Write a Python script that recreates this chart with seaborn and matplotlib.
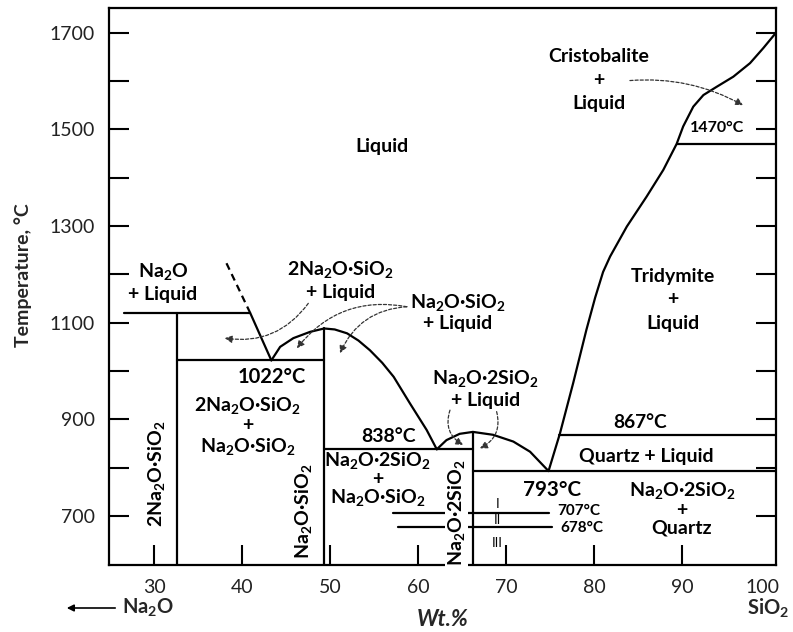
import matplotlib
matplotlib.use("Agg")
import matplotlib.pyplot as plt
import matplotlib.transforms as mtransforms
import seaborn as sns
import pandas as pd

# ---------------- phase boundaries (wt.% SiO2, temperature °C) ----------------
# Na2O + liquid / liquid boundary (dashed metastable part and solid part)
liq_na2o_dash_x = [38.2, 40.9]
liq_na2o_dash_t = [1223, 1120]
liq_na2o_x = [40.9, 43.3]
liq_na2o_t = [1120, 1022]

# Na2O·SiO2 liquidus dome
dome_ns_x = [43.3, 44.3, 45.8, 47.7, 49.3, 50.5, 51.9, 53.2, 54.5, 55.9, 57.2,
             59.05, 60.95, 62.1]
dome_ns_t = [1022, 1050, 1068, 1081, 1088, 1086, 1078, 1063, 1043, 1017, 988,
             933, 878, 838]

# Na2O·2SiO2 liquidus dome
dome_ns2_x = [62.1, 63.2, 64.7, 66.2, 68.5, 70.8, 72.7, 74.8]
dome_ns2_t = [838, 857, 870, 874, 868, 854, 833, 793]

# silica liquidus (quartz / tridymite / cristobalite)
liq_sio2_x = [74.8, 76.1, 77.6, 79.1, 80.1, 81.0, 81.8, 83.7, 85.95, 87.84, 89.36,
              90.1, 91.25, 92.4, 93.9, 95.8, 97.7, 99.2, 100.65]
liq_sio2_t = [793, 871, 975, 1085, 1152, 1205, 1237, 1299, 1361, 1416, 1470,
              1506, 1547, 1571, 1588, 1609, 1637, 1668, 1700]

# isotherms: start wt.%, end wt.%, temperature
iso_x0 = [26.6, 32.55, 49.3, 66.2, 76.0, 89.36, 57.1, 57.7]
iso_x1 = [40.9, 49.3, 66.2, 100.65, 100.65, 100.65, 74.8, 75.2]
iso_t = [1120, 1022, 838, 793, 867, 1470, 707, 678]

# compound verticals: composition, top temperature
comp_x = [32.55, 49.3, 66.2]
comp_top = [1120, 1088, 874]

x_ticks = [30, 40, 50, 60, 70, 80, 90, 100]
y_ticks = [700, 900, 1100, 1300, 1500, 1700]
y_minor = [800, 1000, 1200, 1400, 1600]

X_LIM = (24.85, 100.65)
Y_LIM = (598.6, 1750.5)

# ---------------- assemble segments ----------------
rows = []
def add(seg, xs, ts):
    for x, t in zip(xs, ts):
        rows.append({"wt": x, "temp": t, "seg": seg})

add("liq_na2o", liq_na2o_x, liq_na2o_t)
add("dome_ns", dome_ns_x, dome_ns_t)
add("dome_ns2", dome_ns2_x, dome_ns2_t)
add("liq_sio2", liq_sio2_x, liq_sio2_t)
for i, (a, b, t) in enumerate(zip(iso_x0, iso_x1, iso_t)):
    add(f"iso{i}", [a, b], [t, t])
for i, (c, top) in enumerate(zip(comp_x, comp_top)):
    add(f"comp{i}", [c, c], [Y_LIM[0], top])
solid = pd.DataFrame(rows)
dashed = pd.DataFrame({"wt": liq_na2o_dash_x, "temp": liq_na2o_dash_t, "seg": "d"})

# ---------------- styling ----------------
sns.set_theme(style="ticks")
FONT = "Lato"
plt.rcParams["font.family"] = [FONT, "DejaVu Sans"]
plt.rcParams["mathtext.fontset"] = "custom"
plt.rcParams["mathtext.rm"] = FONT
plt.rcParams["mathtext.bf"] = FONT + ":bold"
plt.rcParams["mathtext.it"] = FONT + ":italic"
plt.rcParams["mathtext.default"] = "regular"

fig = plt.figure(figsize=(7.93, 6.32), dpi=100)
W, H = 793, 632
ax = fig.add_axes([109 / W, (H - 565) / H, (776 - 109) / W, (565 - 8.3) / H])

sns.lineplot(data=solid, x="wt", y="temp", units="seg", estimator=None, sort=False,
             color="black", lw=1.6, ax=ax, legend=False)
sns.lineplot(data=dashed, x="wt", y="temp", units="seg", estimator=None, sort=False,
             color="black", lw=1.6, ax=ax, legend=False, linestyle=(0, (3.2, 2.2)))

ax.set_xlim(*X_LIM)
ax.set_ylim(*Y_LIM)
ax.set_xlabel("")
ax.set_ylabel("")

ax.set_xticks(x_ticks)
ax.set_xticklabels([str(v) for v in x_ticks])
ax.set_yticks(y_ticks)
ax.set_yticks(y_minor, minor=True)
ax.tick_params(axis="both", which="both", direction="in", length=14.4, width=1.5,
               colors="black", labelsize=14)
ax.tick_params(axis="y", which="both", right=True, left=True, pad=10)
ax.tick_params(axis="x", which="both", top=False, pad=10)
ax.xaxis.get_major_ticks()[-1].tick1line.set_visible(False)
for lab in ax.get_xticklabels() + ax.get_yticklabels():
    lab.set_color("#222222")
# keep the "100" label inside the figure edge
last = ax.get_xticklabels()[-1]
last.set_transform(last.get_transform() +
                   mtransforms.ScaledTranslation(-8 / 100, 0, fig.dpi_scale_trans))
for sp in ax.spines.values():
    sp.set_linewidth(1.6)
    sp.set_color("black")
    sp.set_visible(True)
ax.grid(False)

# ---------------- labels ----------------
def lbl(x, t, s, size=14, weight="bold", ls=1.2, **kw):
    ax.text(x, t, s, ha="center", va="center", fontsize=size, fontweight=weight,
            linespacing=ls, color="black", **kw)

lbl(55.9, 1464, "Liquid")
lbl(80.5, 1602, "Cristobalite\n+\nLiquid", ls=1.45)
lbl(93.9, 1503, "1470°C", size=11.5)
lbl(31.0, 1184, "Na$_2$O\n+ Liquid", ls=1.3)
lbl(51.2, 1188, "2Na$_2$O·SiO$_2$\n+ Liquid", ls=1.3)
lbl(64.5, 1122, "Na$_2$O·SiO$_2$\n+ Liquid", ls=1.2)
lbl(88.9, 1147, "Tridymite\n+\nLiquid", ls=1.45)
lbl(43.3, 988, "1022°C", size=14.5)
lbl(40.6, 886, "2Na$_2$O·SiO$_2$\n+\nNa$_2$O·SiO$_2$", ls=1.12)
lbl(56.6, 864, "838°C", size=14)
lbl(55.4, 776, "Na$_2$O·2SiO$_2$\n+\nNa$_2$O·SiO$_2$", ls=0.98)
lbl(67.6, 963, "Na$_2$O·2SiO$_2$\n+ Liquid", ls=1.22)
lbl(85.2, 894, "867°C", size=13.8)
lbl(85.9, 824, "Quartz + Liquid")
lbl(75.25, 754, "793°C", size=14.8)
lbl(89.96, 716, "Na$_2$O·2SiO$_2$\n+\nQuartz", ls=1.03)
lbl(30.3, 788, "2Na$_2$O·SiO$_2$", rotation=90)
lbl(46.9, 709, "Na$_2$O·SiO$_2$", rotation=90)
lbl(64.35, 707, "Na$_2$O·2SiO$_2$", rotation=90,
    bbox=dict(boxstyle="square,pad=0.05", fc="white", ec="none"))
lbl(78.2, 711, "707°C", size=11)
lbl(78.6, 676, "678°C", size=11)
lbl(69.0, 724, "I", size=9.5, weight="normal")
lbl(69.0, 691, "II", size=9.5, weight="normal")
lbl(69.0, 644, "III", size=9.5, weight="normal")

# ---------------- dashed pointer arrows ----------------
def pointer(start, end, rad):
    ax.annotate("", xy=end, xytext=start,
                arrowprops=dict(arrowstyle="-|>", color="#333333", lw=0.9,
                                linestyle=(0, (2.5, 1.6)), mutation_scale=11,
                                shrinkA=0, shrinkB=0,
                                connectionstyle=f"arc3,rad={rad}"))

pointer((47.5, 1140), (38.0, 1068), -0.3)
pointer((58.7, 1133), (46.2, 1047), 0.3)
pointer((58.7, 1133), (51.1, 1037), 0.3)
pointer((63.6, 919), (65.1, 847), 0.4)
pointer((68.9, 916), (67.0, 840), -0.4)
pointer((84.05, 1601), (96.9, 1550), -0.15)

# ---------------- axis titles ----------------
fig.text(23 / W, 1 - 275 / H, "Temperature, °C", rotation=90, ha="center", va="center",
         fontsize=14, fontweight="bold")
fig.text(443 / W, 1 - 620 / H, "Wt.%", ha="center", va="center", fontsize=16,
         fontweight="bold", fontstyle="italic")
fig.text(122 / W, 1 - 608 / H, "Na$_2$O", ha="left", va="center", fontsize=14.5,
         fontweight="bold")
fig.text(768 / W, 1 - 608 / H, "SiO$_2$", ha="center", va="center", fontsize=14.5,
         fontweight="bold")
fig.patches.append(matplotlib.patches.FancyArrowPatch(
    (118 / W, 1 - 608 / H), (64 / W, 1 - 608 / H), transform=fig.transFigure,
    arrowstyle="-|>", mutation_scale=10, lw=1.2, color="black"))

fig.savefig("out.png", dpi=100, facecolor="white")
